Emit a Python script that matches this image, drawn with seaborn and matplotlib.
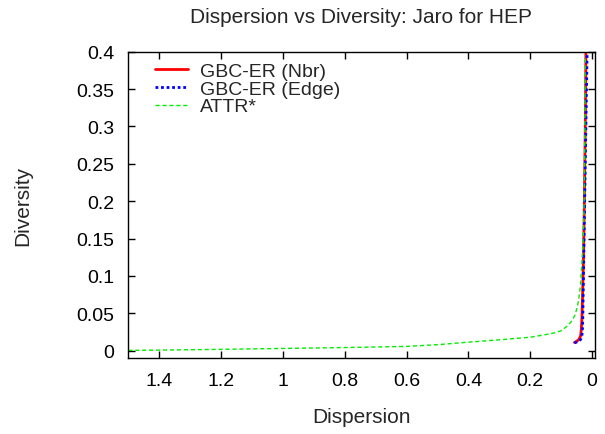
import matplotlib
matplotlib.use("Agg")
import matplotlib.pyplot as plt
import seaborn as sns
import pandas as pd

# ATTR* curve
attr_disp = [1.50, 1.40, 1.20, 1.00, 0.80, 0.60, 0.50, 0.40, 0.30, 0.20, 0.15, 0.12, 0.10, 0.08, 0.065, 0.055, 0.048, 0.043, 0.038, 0.034, 0.030, 0.027, 0.024, 0.022]
attr_div = [0.0004, 0.0008, 0.0018, 0.0030, 0.0042, 0.0057, 0.0080, 0.0114, 0.0145, 0.0180, 0.0215, 0.0240, 0.0267, 0.0330, 0.0400, 0.0480, 0.0580, 0.0690, 0.0860, 0.1100, 0.1400, 0.1700, 0.2600, 0.3950]

# GBC-ER (Nbr)
nbr_disp = [0.057, 0.050, 0.044, 0.040, 0.037, 0.035, 0.033, 0.031, 0.028, 0.025, 0.022, 0.020]
nbr_div = [0.0110, 0.0125, 0.0145, 0.0170, 0.0200, 0.0280, 0.0420, 0.0700, 0.1200, 0.2000, 0.3000, 0.4000]

# GBC-ER (Edge)
edge_disp = [0.057, 0.050, 0.043, 0.037, 0.033, 0.031, 0.030, 0.029, 0.027, 0.024, 0.020, 0.016]
edge_div = [0.0105, 0.0115, 0.0130, 0.0150, 0.0200, 0.0300, 0.0450, 0.0700, 0.1200, 0.2000, 0.3000, 0.4000]

sns.set_style("ticks")
plt.rcParams['font.family'] = ['Liberation Sans', 'DejaVu Sans']

fig = plt.figure(figsize=(6.05, 4.35), dpi=100)
ax = fig.add_axes([0.212, 0.174, 0.771, 0.705])

d_nbr = pd.DataFrame({"x": nbr_disp, "y": nbr_div})
d_edge = pd.DataFrame({"x": edge_disp, "y": edge_div})
d_attr = pd.DataFrame({"x": attr_disp, "y": attr_div})

sns.lineplot(data=d_nbr, x="x", y="y", ax=ax, sort=False, estimator=None,
             color="#ff0000", linewidth=2.0, label="GBC-ER (Nbr)")
sns.lineplot(data=d_edge, x="x", y="y", ax=ax, sort=False, estimator=None,
             color="#0000ff", linewidth=2.0, linestyle=(0, (1, 1)), label="GBC-ER (Edge)")
sns.lineplot(data=d_attr, x="x", y="y", ax=ax, sort=False, estimator=None,
             color="#00ee00", linewidth=1.0, linestyle=(0, (3, 2)), label="ATTR*")

ax.set_xlim(1.5, -0.0085)
ax.set_ylim(-0.0102, 0.4)
ax.set_xticks([1.4, 1.2, 1.0, 0.8, 0.6, 0.4, 0.2, 0.0])
ax.set_xticklabels(["1.4", "1.2", "1", "0.8", "0.6", "0.4", "0.2", "0"])
ax.set_yticks([0, 0.05, 0.1, 0.15, 0.2, 0.25, 0.3, 0.35, 0.4])
ax.set_yticklabels(["0", "0.05", "0.1", "0.15", "0.2", "0.25", "0.3", "0.35", "0.4"])
ax.tick_params(direction="in", top=True, right=True, length=5, width=1, labelsize=14, pad=10, colors="black")
for s in ax.spines.values():
    s.set_visible(True)
    s.set_linewidth(1.0)
    s.set_color("black")

ax.set_xlabel("Dispersion", fontsize=15, labelpad=13)
ax.set_ylabel("Diversity", fontsize=15, labelpad=32)
ax.set_title("Dispersion vs Diversity: Jaro for HEP", fontsize=15, pad=21)

leg = ax.legend(loc="upper left", frameon=False, fontsize=14, handlelength=1.7,
                handletextpad=0.65, labelspacing=0.0, borderaxespad=0.0,
                bbox_to_anchor=(0.04, 0.99))

fig.savefig("out.png", dpi=100)
